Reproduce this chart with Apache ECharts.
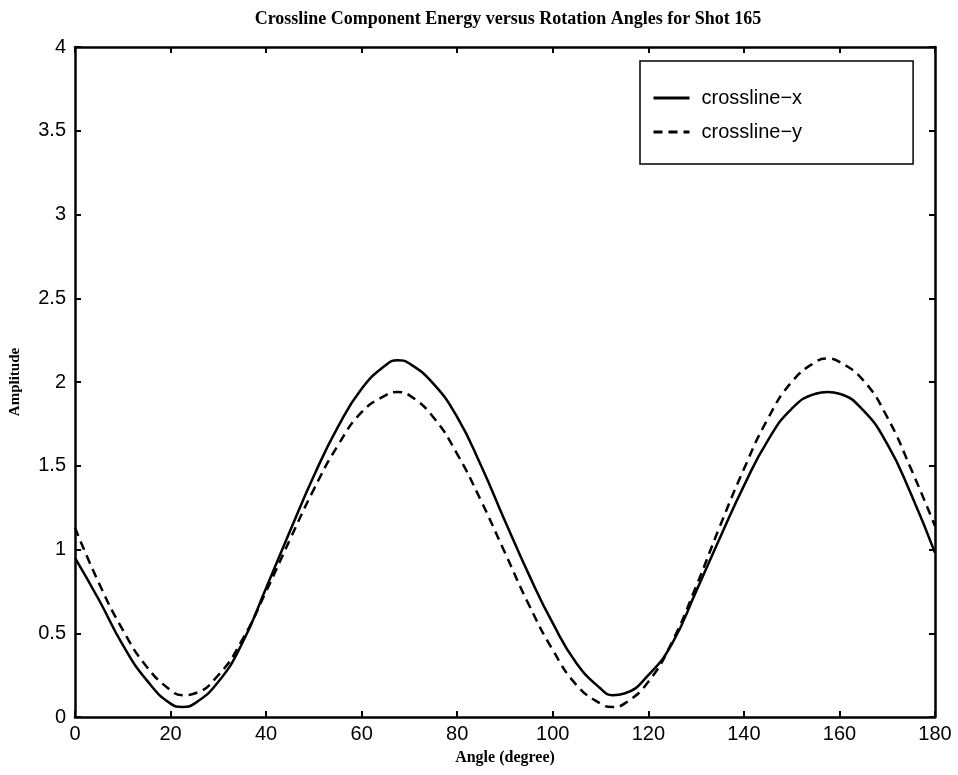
<!DOCTYPE html>
<html>
<head>
<meta charset="utf-8">
<script src="https://cdn.jsdelivr.net/npm/echarts@6/dist/echarts.min.js"></script>
<style>
  html, body { margin: 0; padding: 0; background: #fff; }
  #chart { width: 958px; height: 775px; }
</style>
</head>
<body>
<div id="chart"></div>
<script>
// angles (degree) and amplitude readings for the two crossline components
const angles = [0, 5, 10, 15, 20, 22.5, 25, 30, 35, 40, 45, 50, 55, 60, 65, 67.5, 70, 75, 80, 85,
    90, 95, 100, 105, 110, 112.5, 115, 120, 125, 130, 135, 140, 145, 150, 155, 157.5, 160, 165, 170, 175, 180];
const crosslineX = [0.95, 0.70, 0.43, 0.22, 0.08, 0.06, 0.08, 0.21, 0.44, 0.77, 1.11, 1.44, 1.73, 1.96, 2.10, 2.13, 2.11, 1.99, 1.79, 1.50,
    1.17, 0.85, 0.56, 0.32, 0.17, 0.13, 0.14, 0.25, 0.44, 0.75, 1.07, 1.38, 1.65, 1.84, 1.93, 1.94, 1.93, 1.83, 1.63, 1.33, 0.98];
const crosslineY = [1.13, 0.80, 0.52, 0.30, 0.16, 0.13, 0.14, 0.25, 0.46, 0.75, 1.06, 1.36, 1.62, 1.82, 1.92, 1.94, 1.92, 1.79, 1.57, 1.29,
    0.98, 0.67, 0.40, 0.19, 0.08, 0.06, 0.08, 0.21, 0.45, 0.78, 1.14, 1.48, 1.78, 2.00, 2.12, 2.14, 2.12, 2.01, 1.79, 1.48, 1.14];

const chart = echarts.init(document.getElementById('chart'));

const tickFont = { fontFamily: 'Liberation Sans', fontSize: 20, color: '#000' };
const serifBold = { fontFamily: 'Liberation Serif', fontWeight: 'bold', color: '#000' };

// MATLAB-ish box: ticks inside on all four sides
function xAx(pos, showLabel) {
    return {
        type: 'value', position: pos, min: 0, max: 180, interval: 20,
        axisLine: { show: true, onZero: false, lineStyle: { color: '#000', width: 2.5 } },
        axisTick: { show: true, inside: true, length: 6, lineStyle: { color: '#000', width: 2 } },
        axisLabel: Object.assign({ show: showLabel, margin: 7 }, tickFont),
        splitLine: { show: false }
    };
}
function yAx(pos, showLabel) {
    return {
        type: 'value', position: pos, min: 0, max: 4, interval: 0.5,
        axisLine: { show: true, onZero: false, lineStyle: { color: '#000', width: 2.5 } },
        axisTick: { show: true, inside: true, length: 6, lineStyle: { color: '#000', width: 2 } },
        axisLabel: Object.assign({ show: showLabel, margin: 9 }, tickFont),
        splitLine: { show: false }
    };
}

const xBottom = xAx('bottom', true);
xBottom.name = 'Angle (degree)';
xBottom.nameLocation = 'middle';
xBottom.nameGap = 33;
xBottom.nameTextStyle = Object.assign({ fontSize: 16 }, serifBold);

const yLeft = yAx('left', true);
yLeft.name = 'Amplitude';
yLeft.nameLocation = 'middle';
yLeft.nameGap = 52;
yLeft.nameTextStyle = Object.assign({ fontSize: 15 }, serifBold);

chart.setOption({
    animation: false,
    backgroundColor: '#fff',
    title: {
        text: 'Crossline Component Energy versus Rotation Angles for Shot 165',
        left: 503, top: 5, textAlign: 'center',
        textStyle: Object.assign({ fontSize: 18 }, serifBold)
    },
    grid: { left: 71, right: 23, top: 47, bottom: 58 },
    legend: {
        orient: 'vertical', left: 640, top: 61,
        itemWidth: 36, itemHeight: 20, itemGap: 14,
        padding: [27, 111, 22, 12],
        backgroundColor: '#fff', borderColor: '#000', borderWidth: 1.5, borderRadius: 0,
        itemStyle: { opacity: 0 },
        lineStyle: { width: 3 },
        textStyle: { fontFamily: 'Liberation Sans', fontSize: 20, color: '#000', padding: [0, 0, 0, 7] },
        data: ['crossline−x', 'crossline−y']
    },
    xAxis: [xBottom, xAx('top', false)],
    yAxis: [yLeft, yAx('right', false)],
    series: [
        {
            name: 'crossline−x', type: 'line', smooth: true, symbol: 'none',
            lineStyle: { color: '#000', width: 2.5, type: 'solid' },
            itemStyle: { color: '#000' },
            data: angles.map((a, i) => [a, crosslineX[i]])
        },
        {
            name: 'crossline−y', type: 'line', smooth: true, symbol: 'none',
            lineStyle: { color: '#000', width: 2.5, type: [9, 6] },
            itemStyle: { color: '#000' },
            data: angles.map((a, i) => [a, crosslineY[i]])
        }
    ]
});
</script>
</body>
</html>
